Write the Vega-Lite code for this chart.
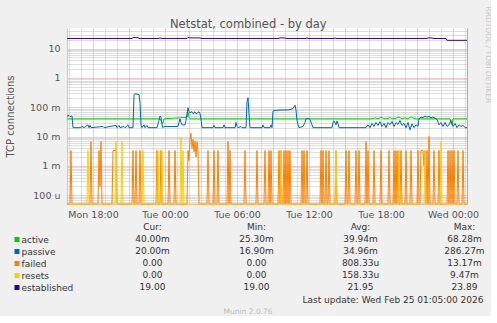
{
"$schema": "https://vega.github.io/schema/vega-lite/v6.json",
"background": "#f0f0f0",
"padding": {"left": 5, "top": 5, "right": 0, "bottom": 0},
"title": {"text": "Netstat, combined - by day", "anchor": "middle", "frame": "bounds", "fontSize": 11.5, "fontWeight": "normal", "color": "#555555", "offset": -24},
"spacing": 2,
"datasets": {
"active": [{"t":"2026-02-23T15:50","v":0.04},{"t":"2026-02-23T23:35","v":0.04},{"t":"2026-02-23T23:45","v":0.03},{"t":"2026-02-23T23:50","v":0.028},{"t":"2026-02-23T23:55","v":0.04},{"t":"2026-02-24T01:50","v":0.045},{"t":"2026-02-24T01:55","v":0.06828},{"t":"2026-02-24T02:00","v":0.045},{"t":"2026-02-24T02:05","v":0.04},{"t":"2026-02-24T17:15","v":0.04},{"t":"2026-02-24T17:30","v":0.043},{"t":"2026-02-24T17:45","v":0.04},{"t":"2026-02-24T18:00","v":0.045},{"t":"2026-02-24T18:15","v":0.041},{"t":"2026-02-24T18:30","v":0.04},{"t":"2026-02-24T18:45","v":0.044},{"t":"2026-02-24T19:00","v":0.04},{"t":"2026-02-24T19:15","v":0.042},{"t":"2026-02-24T19:30","v":0.046},{"t":"2026-02-24T19:45","v":0.04},{"t":"2026-02-24T20:00","v":0.043},{"t":"2026-02-24T20:15","v":0.04},{"t":"2026-02-24T20:30","v":0.047},{"t":"2026-02-24T20:45","v":0.041},{"t":"2026-02-24T20:55","v":0.04},{"t":"2026-02-24T23:45","v":0.04},{"t":"2026-02-24T23:50","v":0.03},{"t":"2026-02-24T23:55","v":0.0253},{"t":"2026-02-25T00:00","v":0.04},{"t":"2026-02-25T01:10","v":0.04}],
"passive": [{"t":"2026-02-23T15:50","v":0.05},{"t":"2026-02-23T16:00","v":0.052},{"t":"2026-02-23T16:05","v":0.048},{"t":"2026-02-23T16:15","v":0.05},{"t":"2026-02-23T16:20","v":0.02},{"t":"2026-02-23T16:55","v":0.02},{"t":"2026-02-23T17:05","v":0.022},{"t":"2026-02-23T17:15","v":0.02},{"t":"2026-02-23T17:35","v":0.025},{"t":"2026-02-23T17:40","v":0.02},{"t":"2026-02-23T17:45","v":0.024},{"t":"2026-02-23T17:50","v":0.02},{"t":"2026-02-23T18:50","v":0.022},{"t":"2026-02-23T18:55","v":0.02},{"t":"2026-02-23T19:55","v":0.024},{"t":"2026-02-23T20:00","v":0.02},{"t":"2026-02-23T20:10","v":0.024},{"t":"2026-02-23T20:15","v":0.02},{"t":"2026-02-23T20:35","v":0.022},{"t":"2026-02-23T20:40","v":0.02},{"t":"2026-02-23T20:55","v":0.025},{"t":"2026-02-23T21:00","v":0.02},{"t":"2026-02-23T21:20","v":0.02},{"t":"2026-02-23T21:25","v":0.27},{"t":"2026-02-23T21:30","v":0.28627},{"t":"2026-02-23T21:50","v":0.27},{"t":"2026-02-23T21:55","v":0.14},{"t":"2026-02-23T22:00","v":0.025},{"t":"2026-02-23T22:05","v":0.02},{"t":"2026-02-23T22:15","v":0.025},{"t":"2026-02-23T22:20","v":0.02},{"t":"2026-02-23T22:30","v":0.024},{"t":"2026-02-23T22:35","v":0.02},{"t":"2026-02-23T23:20","v":0.02},{"t":"2026-02-23T23:30","v":0.035},{"t":"2026-02-23T23:35","v":0.05},{"t":"2026-02-23T23:40","v":0.045},{"t":"2026-02-23T23:45","v":0.025},{"t":"2026-02-23T23:50","v":0.02},{"t":"2026-02-23T23:55","v":0.022},{"t":"2026-02-24T01:05","v":0.022},{"t":"2026-02-24T01:10","v":0.03},{"t":"2026-02-24T01:15","v":0.04},{"t":"2026-02-24T01:20","v":0.03},{"t":"2026-02-24T01:25","v":0.025},{"t":"2026-02-24T01:40","v":0.025},{"t":"2026-02-24T01:45","v":0.035},{"t":"2026-02-24T01:50","v":0.06},{"t":"2026-02-24T01:55","v":0.095},{"t":"2026-02-24T02:00","v":0.07},{"t":"2026-02-24T02:05","v":0.065},{"t":"2026-02-24T02:15","v":0.07},{"t":"2026-02-24T02:20","v":0.06},{"t":"2026-02-24T02:30","v":0.07},{"t":"2026-02-24T02:35","v":0.06},{"t":"2026-02-24T02:45","v":0.065},{"t":"2026-02-24T02:50","v":0.07},{"t":"2026-02-24T02:55","v":0.06},{"t":"2026-02-24T03:00","v":0.04},{"t":"2026-02-24T03:05","v":0.02},{"t":"2026-02-24T04:00","v":0.02},{"t":"2026-02-24T04:05","v":0.024},{"t":"2026-02-24T04:10","v":0.02},{"t":"2026-02-24T04:50","v":0.02},{"t":"2026-02-24T04:55","v":0.025},{"t":"2026-02-24T05:00","v":0.02},{"t":"2026-02-24T05:50","v":0.02},{"t":"2026-02-24T05:55","v":0.03},{"t":"2026-02-24T06:00","v":0.022},{"t":"2026-02-24T06:05","v":0.02},{"t":"2026-02-24T06:20","v":0.022},{"t":"2026-02-24T06:25","v":0.02},{"t":"2026-02-24T06:45","v":0.02},{"t":"2026-02-24T06:50","v":0.15},{"t":"2026-02-24T06:55","v":0.21},{"t":"2026-02-24T07:00","v":0.06},{"t":"2026-02-24T07:05","v":0.02},{"t":"2026-02-24T08:05","v":0.02},{"t":"2026-02-24T08:10","v":0.025},{"t":"2026-02-24T08:15","v":0.02},{"t":"2026-02-24T08:45","v":0.02},{"t":"2026-02-24T08:50","v":0.025},{"t":"2026-02-24T08:55","v":0.02},{"t":"2026-02-24T09:00","v":0.074},{"t":"2026-02-24T09:15","v":0.078},{"t":"2026-02-24T09:35","v":0.08},{"t":"2026-02-24T10:00","v":0.08},{"t":"2026-02-24T10:25","v":0.082},{"t":"2026-02-24T10:40","v":0.09},{"t":"2026-02-24T10:50","v":0.117},{"t":"2026-02-24T10:55","v":0.08},{"t":"2026-02-24T11:00","v":0.035},{"t":"2026-02-24T11:05","v":0.025},{"t":"2026-02-24T11:10","v":0.02},{"t":"2026-02-24T11:30","v":0.022},{"t":"2026-02-24T11:40","v":0.03},{"t":"2026-02-24T11:45","v":0.04},{"t":"2026-02-24T11:55","v":0.042},{"t":"2026-02-24T12:05","v":0.038},{"t":"2026-02-24T12:15","v":0.025},{"t":"2026-02-24T12:20","v":0.02},{"t":"2026-02-24T13:55","v":0.02},{"t":"2026-02-24T14:00","v":0.03},{"t":"2026-02-24T14:05","v":0.034},{"t":"2026-02-24T14:15","v":0.025},{"t":"2026-02-24T14:20","v":0.034},{"t":"2026-02-24T14:25","v":0.028},{"t":"2026-02-24T14:30","v":0.02},{"t":"2026-02-24T16:45","v":0.02},{"t":"2026-02-24T16:55","v":0.025},{"t":"2026-02-24T17:05","v":0.02},{"t":"2026-02-24T17:15","v":0.028},{"t":"2026-02-24T17:25","v":0.022},{"t":"2026-02-24T17:35","v":0.03},{"t":"2026-02-24T17:45","v":0.024},{"t":"2026-02-24T17:55","v":0.032},{"t":"2026-02-24T18:05","v":0.022},{"t":"2026-02-24T18:15","v":0.028},{"t":"2026-02-24T18:25","v":0.02},{"t":"2026-02-24T18:35","v":0.03},{"t":"2026-02-24T18:45","v":0.025},{"t":"2026-02-24T18:55","v":0.033},{"t":"2026-02-24T19:05","v":0.022},{"t":"2026-02-24T19:15","v":0.03},{"t":"2026-02-24T19:25","v":0.026},{"t":"2026-02-24T19:35","v":0.035},{"t":"2026-02-24T19:45","v":0.024},{"t":"2026-02-24T19:55","v":0.028},{"t":"2026-02-24T20:05","v":0.02},{"t":"2026-02-24T20:15","v":0.03},{"t":"2026-02-24T20:25","v":0.0169},{"t":"2026-02-24T20:35","v":0.027},{"t":"2026-02-24T20:45","v":0.02},{"t":"2026-02-24T20:55","v":0.025},{"t":"2026-02-24T21:05","v":0.022},{"t":"2026-02-24T21:10","v":0.04},{"t":"2026-02-24T21:20","v":0.046},{"t":"2026-02-24T21:30","v":0.044},{"t":"2026-02-24T21:40","v":0.05},{"t":"2026-02-24T21:50","v":0.046},{"t":"2026-02-24T22:00","v":0.048},{"t":"2026-02-24T22:10","v":0.044},{"t":"2026-02-24T22:20","v":0.046},{"t":"2026-02-24T22:30","v":0.042},{"t":"2026-02-24T22:40","v":0.038},{"t":"2026-02-24T22:50","v":0.025},{"t":"2026-02-24T23:00","v":0.03},{"t":"2026-02-24T23:10","v":0.022},{"t":"2026-02-24T23:20","v":0.03},{"t":"2026-02-24T23:30","v":0.022},{"t":"2026-02-24T23:40","v":0.025},{"t":"2026-02-24T23:50","v":0.035},{"t":"2026-02-25T00:00","v":0.022},{"t":"2026-02-25T00:10","v":0.028},{"t":"2026-02-25T00:20","v":0.02},{"t":"2026-02-25T00:30","v":0.025},{"t":"2026-02-25T00:40","v":0.022},{"t":"2026-02-25T00:50","v":0.024},{"t":"2026-02-25T01:00","v":0.02},{"t":"2026-02-25T01:10","v":0.02}],
"failed": [{"t":"2026-02-23T15:50","v":0},{"t":"2026-02-23T16:05","v":0},{"t":"2026-02-23T16:10","v":0.00333},{"t":"2026-02-23T16:15","v":0},{"t":"2026-02-23T17:45","v":0},{"t":"2026-02-23T17:50","v":0.00667},{"t":"2026-02-23T17:55","v":0},{"t":"2026-02-23T18:25","v":0},{"t":"2026-02-23T18:30","v":0.00333},{"t":"2026-02-23T18:35","v":0.0002},{"t":"2026-02-23T18:40","v":0.00667},{"t":"2026-02-23T18:45","v":0},{"t":"2026-02-23T19:35","v":0},{"t":"2026-02-23T19:40","v":0.00333},{"t":"2026-02-23T19:55","v":0.00333},{"t":"2026-02-23T20:00","v":0},{"t":"2026-02-23T21:15","v":0},{"t":"2026-02-23T21:20","v":0.00333},{"t":"2026-02-23T21:25","v":0},{"t":"2026-02-23T21:30","v":0},{"t":"2026-02-23T21:35","v":0.00333},{"t":"2026-02-23T21:40","v":0},{"t":"2026-02-23T21:50","v":0},{"t":"2026-02-23T21:55","v":0.00333},{"t":"2026-02-23T22:00","v":0},{"t":"2026-02-23T23:15","v":0},{"t":"2026-02-23T23:20","v":0.00333},{"t":"2026-02-23T23:25","v":0},{"t":"2026-02-23T23:35","v":0},{"t":"2026-02-23T23:40","v":0.00333},{"t":"2026-02-23T23:45","v":0},{"t":"2026-02-24T00:15","v":0},{"t":"2026-02-24T00:20","v":0.00333},{"t":"2026-02-24T00:25","v":0},{"t":"2026-02-24T00:45","v":0},{"t":"2026-02-24T00:50","v":0.00333},{"t":"2026-02-24T00:55","v":0},{"t":"2026-02-24T01:50","v":0},{"t":"2026-02-24T01:55","v":0.00333},{"t":"2026-02-24T02:00","v":0.0015},{"t":"2026-02-24T02:05","v":0.008},{"t":"2026-02-24T02:10","v":0.01317},{"t":"2026-02-24T02:15","v":0.004},{"t":"2026-02-24T02:20","v":0.008},{"t":"2026-02-24T02:25","v":0.003},{"t":"2026-02-24T02:30","v":0.007},{"t":"2026-02-24T02:35","v":0.002},{"t":"2026-02-24T02:40","v":0.00667},{"t":"2026-02-24T02:45","v":0.00333},{"t":"2026-02-24T02:50","v":0},{"t":"2026-02-24T03:30","v":0},{"t":"2026-02-24T03:35","v":0.00333},{"t":"2026-02-24T03:40","v":0},{"t":"2026-02-24T04:00","v":0},{"t":"2026-02-24T04:05","v":0.00333},{"t":"2026-02-24T04:10","v":0},{"t":"2026-02-24T04:20","v":0},{"t":"2026-02-24T04:25","v":0.00333},{"t":"2026-02-24T04:30","v":0},{"t":"2026-02-24T05:10","v":0},{"t":"2026-02-24T05:15","v":0.00667},{"t":"2026-02-24T05:20","v":0},{"t":"2026-02-24T05:25","v":0.00333},{"t":"2026-02-24T05:30","v":0},{"t":"2026-02-24T06:35","v":0},{"t":"2026-02-24T06:40","v":0.00333},{"t":"2026-02-24T06:45","v":0},{"t":"2026-02-24T07:35","v":0},{"t":"2026-02-24T07:40","v":0.00333},{"t":"2026-02-24T07:45","v":0},{"t":"2026-02-24T08:15","v":0},{"t":"2026-02-24T08:20","v":0.00333},{"t":"2026-02-24T08:25","v":0},{"t":"2026-02-24T08:35","v":0},{"t":"2026-02-24T08:40","v":0.00333},{"t":"2026-02-24T08:45","v":0},{"t":"2026-02-24T08:50","v":0.00333},{"t":"2026-02-24T08:55","v":0},{"t":"2026-02-24T09:25","v":0},{"t":"2026-02-24T09:30","v":0.00333},{"t":"2026-02-24T09:35","v":0},{"t":"2026-02-24T09:40","v":0.00333},{"t":"2026-02-24T09:45","v":0},{"t":"2026-02-24T09:50","v":0},{"t":"2026-02-24T09:55","v":0.00333},{"t":"2026-02-24T10:00","v":0},{"t":"2026-02-24T10:05","v":0.00333},{"t":"2026-02-24T10:10","v":0},{"t":"2026-02-24T10:15","v":0.00333},{"t":"2026-02-24T10:20","v":0},{"t":"2026-02-24T10:25","v":0.00333},{"t":"2026-02-24T10:30","v":0},{"t":"2026-02-24T11:20","v":0},{"t":"2026-02-24T11:25","v":0.00333},{"t":"2026-02-24T11:30","v":0},{"t":"2026-02-24T11:35","v":0.00333},{"t":"2026-02-24T11:40","v":0},{"t":"2026-02-24T11:45","v":0},{"t":"2026-02-24T11:50","v":0.00333},{"t":"2026-02-24T11:55","v":0},{"t":"2026-02-24T12:55","v":0},{"t":"2026-02-24T13:00","v":0.00333},{"t":"2026-02-24T13:05","v":0},{"t":"2026-02-24T13:10","v":0.00333},{"t":"2026-02-24T13:15","v":0},{"t":"2026-02-24T13:20","v":0},{"t":"2026-02-24T13:25","v":0.00333},{"t":"2026-02-24T13:30","v":0},{"t":"2026-02-24T13:35","v":0},{"t":"2026-02-24T13:40","v":0.00333},{"t":"2026-02-24T13:45","v":0},{"t":"2026-02-24T14:10","v":0},{"t":"2026-02-24T14:15","v":0.00333},{"t":"2026-02-24T14:20","v":0},{"t":"2026-02-24T15:00","v":0},{"t":"2026-02-24T15:05","v":0.00333},{"t":"2026-02-24T15:10","v":0},{"t":"2026-02-24T15:15","v":0},{"t":"2026-02-24T15:20","v":0.00333},{"t":"2026-02-24T15:25","v":0},{"t":"2026-02-24T15:50","v":0},{"t":"2026-02-24T15:55","v":0.00333},{"t":"2026-02-24T16:00","v":0},{"t":"2026-02-24T16:05","v":0},{"t":"2026-02-24T16:10","v":0.00333},{"t":"2026-02-24T16:15","v":0},{"t":"2026-02-24T16:40","v":0},{"t":"2026-02-24T16:45","v":0.00667},{"t":"2026-02-24T16:50","v":0},{"t":"2026-02-24T16:55","v":0.00333},{"t":"2026-02-24T17:00","v":0},{"t":"2026-02-24T17:20","v":0},{"t":"2026-02-24T17:25","v":0.00333},{"t":"2026-02-24T17:30","v":0},{"t":"2026-02-24T17:55","v":0},{"t":"2026-02-24T18:00","v":0.00333},{"t":"2026-02-24T18:05","v":0},{"t":"2026-02-24T18:35","v":0},{"t":"2026-02-24T18:40","v":0.00333},{"t":"2026-02-24T18:45","v":0},{"t":"2026-02-24T19:00","v":0},{"t":"2026-02-24T19:05","v":0.00333},{"t":"2026-02-24T19:10","v":0},{"t":"2026-02-24T19:15","v":0.00333},{"t":"2026-02-24T19:20","v":0},{"t":"2026-02-24T19:25","v":0.00333},{"t":"2026-02-24T19:30","v":0},{"t":"2026-02-24T19:35","v":0},{"t":"2026-02-24T19:40","v":0.00333},{"t":"2026-02-24T19:45","v":0},{"t":"2026-02-24T20:00","v":0},{"t":"2026-02-24T20:05","v":0.00333},{"t":"2026-02-24T20:10","v":0},{"t":"2026-02-24T20:25","v":0},{"t":"2026-02-24T20:30","v":0.00333},{"t":"2026-02-24T20:35","v":0},{"t":"2026-02-24T21:00","v":0},{"t":"2026-02-24T21:05","v":0.00333},{"t":"2026-02-24T21:10","v":0},{"t":"2026-02-24T21:15","v":0},{"t":"2026-02-24T21:20","v":0.00333},{"t":"2026-02-24T21:30","v":0.00333},{"t":"2026-02-24T21:35","v":0.001},{"t":"2026-02-24T21:40","v":0.00333},{"t":"2026-02-24T21:45","v":0},{"t":"2026-02-24T21:50","v":0.00333},{"t":"2026-02-24T21:55","v":0},{"t":"2026-02-24T22:00","v":0.01},{"t":"2026-02-24T22:05","v":0},{"t":"2026-02-24T22:20","v":0},{"t":"2026-02-24T22:25","v":0.00333},{"t":"2026-02-24T22:30","v":0},{"t":"2026-02-24T22:45","v":0},{"t":"2026-02-24T22:50","v":0.00333},{"t":"2026-02-24T22:55","v":0},{"t":"2026-02-24T23:30","v":0},{"t":"2026-02-24T23:35","v":0.00333},{"t":"2026-02-24T23:40","v":0},{"t":"2026-02-24T23:45","v":0.00333},{"t":"2026-02-24T23:50","v":0},{"t":"2026-02-24T23:55","v":0.00333},{"t":"2026-02-25T00:00","v":0},{"t":"2026-02-25T00:05","v":0.00333},{"t":"2026-02-25T00:10","v":0},{"t":"2026-02-25T00:20","v":0},{"t":"2026-02-25T00:25","v":0.00333},{"t":"2026-02-25T00:30","v":0},{"t":"2026-02-25T00:45","v":0},{"t":"2026-02-25T00:50","v":0.00333},{"t":"2026-02-25T00:55","v":0},{"t":"2026-02-25T01:10","v":0}],
"resets": [{"t":"2026-02-23T15:50","v":0},{"t":"2026-02-23T17:30","v":0},{"t":"2026-02-23T17:35","v":0.00333},{"t":"2026-02-23T17:40","v":0},{"t":"2026-02-23T19:50","v":0},{"t":"2026-02-23T19:55","v":0.00667},{"t":"2026-02-23T20:00","v":0},{"t":"2026-02-23T20:20","v":0},{"t":"2026-02-23T20:25","v":0.00667},{"t":"2026-02-23T20:30","v":0},{"t":"2026-02-23T22:05","v":0},{"t":"2026-02-23T22:10","v":0.00333},{"t":"2026-02-23T22:15","v":0},{"t":"2026-02-23T23:20","v":0},{"t":"2026-02-23T23:25","v":0.00333},{"t":"2026-02-23T23:30","v":0},{"t":"2026-02-23T23:40","v":0},{"t":"2026-02-23T23:45","v":0.00333},{"t":"2026-02-23T23:50","v":0},{"t":"2026-02-24T01:15","v":0},{"t":"2026-02-24T01:20","v":0.00947},{"t":"2026-02-24T01:25","v":0},{"t":"2026-02-24T01:30","v":0.00333},{"t":"2026-02-24T01:35","v":0},{"t":"2026-02-24T09:35","v":0},{"t":"2026-02-24T09:40","v":0.00333},{"t":"2026-02-24T09:45","v":0},{"t":"2026-02-24T14:10","v":0},{"t":"2026-02-24T14:15","v":0.00333},{"t":"2026-02-24T14:20","v":0},{"t":"2026-02-24T19:25","v":0},{"t":"2026-02-24T19:30","v":0.00333},{"t":"2026-02-24T19:35","v":0},{"t":"2026-02-24T21:35","v":0},{"t":"2026-02-24T21:40","v":0.00333},{"t":"2026-02-24T21:45","v":0},{"t":"2026-02-24T22:55","v":0},{"t":"2026-02-24T23:00","v":0.00667},{"t":"2026-02-24T23:05","v":0},{"t":"2026-02-25T01:10","v":0}],
"established": [{"t":"2026-02-23T15:50","v":22},{"t":"2026-02-23T21:15","v":22},{"t":"2026-02-23T21:20","v":23.5},{"t":"2026-02-23T21:45","v":23.5},{"t":"2026-02-23T21:50","v":22},{"t":"2026-02-23T23:30","v":22},{"t":"2026-02-23T23:35","v":23},{"t":"2026-02-23T23:40","v":22},{"t":"2026-02-24T01:50","v":22},{"t":"2026-02-24T01:55","v":23.89},{"t":"2026-02-24T02:05","v":23},{"t":"2026-02-24T02:55","v":23},{"t":"2026-02-24T03:00","v":22},{"t":"2026-02-24T09:30","v":22},{"t":"2026-02-24T09:35","v":23},{"t":"2026-02-24T10:00","v":23},{"t":"2026-02-24T10:05","v":22},{"t":"2026-02-24T11:45","v":22},{"t":"2026-02-24T11:50","v":23},{"t":"2026-02-24T11:55","v":22},{"t":"2026-02-24T14:05","v":22},{"t":"2026-02-24T14:10","v":23},{"t":"2026-02-24T14:15","v":22},{"t":"2026-02-24T21:50","v":22},{"t":"2026-02-24T21:55","v":23},{"t":"2026-02-24T22:15","v":23},{"t":"2026-02-24T22:20","v":22},{"t":"2026-02-24T23:25","v":22},{"t":"2026-02-24T23:30","v":19},{"t":"2026-02-25T01:10","v":19}],
"legend": [
{"series":"header","stat":"Cur","text":"Cur:"},{"series":"header","stat":"Min","text":"Min:"},{"series":"header","stat":"Avg","text":"Avg:"},{"series":"header","stat":"Max","text":"Max:"},
{"series":"active","stat":"Cur","text":"40.00m"},{"series":"active","stat":"Min","text":"25.30m"},{"series":"active","stat":"Avg","text":"39.94m"},{"series":"active","stat":"Max","text":"68.28m"},
{"series":"passive","stat":"Cur","text":"20.00m"},{"series":"passive","stat":"Min","text":"16.90m"},{"series":"passive","stat":"Avg","text":"34.96m"},{"series":"passive","stat":"Max","text":"286.27m"},
{"series":"failed","stat":"Cur","text":"0.00"},{"series":"failed","stat":"Min","text":"0.00"},{"series":"failed","stat":"Avg","text":"808.33u"},{"series":"failed","stat":"Max","text":"13.17m"},
{"series":"resets","stat":"Cur","text":"0.00"},{"series":"resets","stat":"Min","text":"0.00"},{"series":"resets","stat":"Avg","text":"158.33u"},{"series":"resets","stat":"Max","text":"9.47m"},
{"series":"established","stat":"Cur","text":"19.00"},{"series":"established","stat":"Min","text":"19.00"},{"series":"established","stat":"Avg","text":"21.95"},{"series":"established","stat":"Max","text":"23.89"}
]
},
"vconcat": [
{
"width": 400, "height": 176,
"view": {"fill": "#ffffff", "stroke": null},
"layer": [
{"data": {"name": "active"}, "mark": {"type": "line", "color": "#00cc00", "strokeWidth": 1},
 "encoding": {
  "x": {"field": "t", "type": "temporal", "scale": {"domain": [{"year":2026,"month":2,"date":23,"hours":15,"minutes":50},{"year":2026,"month":2,"date":25,"hours":1,"minutes":10}]},
        "axis": {"orient": "bottom", "grid": true, "gridColor": "#bcbcbc", "gridDash": [1,1], "labels": false, "ticks": false, "domain": false, "title": null,
                 "values": [{"year":2026,"month":2,"date":23,"hours":16},{"year":2026,"month":2,"date":23,"hours":17},{"year":2026,"month":2,"date":23,"hours":19},{"year":2026,"month":2,"date":23,"hours":20},{"year":2026,"month":2,"date":23,"hours":22},{"year":2026,"month":2,"date":23,"hours":23},{"year":2026,"month":2,"date":24,"hours":1},{"year":2026,"month":2,"date":24,"hours":2},{"year":2026,"month":2,"date":24,"hours":4},{"year":2026,"month":2,"date":24,"hours":5},{"year":2026,"month":2,"date":24,"hours":7},{"year":2026,"month":2,"date":24,"hours":8},{"year":2026,"month":2,"date":24,"hours":10},{"year":2026,"month":2,"date":24,"hours":11},{"year":2026,"month":2,"date":24,"hours":13},{"year":2026,"month":2,"date":24,"hours":14},{"year":2026,"month":2,"date":24,"hours":16},{"year":2026,"month":2,"date":24,"hours":17},{"year":2026,"month":2,"date":24,"hours":19},{"year":2026,"month":2,"date":24,"hours":20},{"year":2026,"month":2,"date":24,"hours":22},{"year":2026,"month":2,"date":24,"hours":23},{"year":2026,"month":2,"date":25,"hours":1}]}},
  "y": {"field": "v", "type": "quantitative", "scale": {"type": "log", "domain": [0.00005, 50], "clamp": true},
        "axis": {"grid": true, "gridColor": "#bcbcbc", "gridDash": [1,1], "labels": false, "ticks": false, "domain": false, "title": null, "values": [0.00005,0.00006,0.00007,0.00008,0.00009,0.0002,0.0003,0.0004,0.0005,0.0006,0.0007,0.0008,0.0009,0.002,0.003,0.004,0.005,0.006,0.007,0.008,0.009,0.02,0.03,0.04,0.05,0.06,0.07,0.08,0.09,0.2,0.3,0.4,0.5,0.6,0.7,0.8,0.9,2,3,4,5,6,7,8,9,20,30,40]}}
 }},
{"data": {"name": "passive"}, "mark": {"type": "line", "color": "#0066b3", "strokeWidth": 1},
 "encoding": {
  "x": {"field": "t", "type": "temporal", "scale": {"domain": [{"year":2026,"month":2,"date":23,"hours":15,"minutes":50},{"year":2026,"month":2,"date":25,"hours":1,"minutes":10}]},
        "axis": {"orient": "bottom", "grid": true, "gridColor": "#e39494", "gridDash": [1,1], "labels": false, "ticks": false, "domain": false, "title": null,
                 "values": [{"year":2026,"month":2,"date":23,"hours":18},{"year":2026,"month":2,"date":23,"hours":21},{"year":2026,"month":2,"date":24,"hours":0},{"year":2026,"month":2,"date":24,"hours":3},{"year":2026,"month":2,"date":24,"hours":6},{"year":2026,"month":2,"date":24,"hours":9},{"year":2026,"month":2,"date":24,"hours":12},{"year":2026,"month":2,"date":24,"hours":15},{"year":2026,"month":2,"date":24,"hours":18},{"year":2026,"month":2,"date":24,"hours":21},{"year":2026,"month":2,"date":25,"hours":0}]}},
  "y": {"field": "v", "type": "quantitative", "scale": {"type": "log", "domain": [0.00005, 50], "clamp": true},
        "axis": {"grid": true, "gridColor": "#e39494", "gridDash": [1,1], "labels": false, "ticks": false, "domain": false, "title": null, "values": [0.0001,0.001,0.01,0.1,1,10]}}
 }},
{"data": {"name": "failed"}, "mark": {"type": "line", "color": "#ff8000", "strokeWidth": 1},
 "encoding": {
  "x": {"field": "t", "type": "temporal", "scale": {"domain": [{"year":2026,"month":2,"date":23,"hours":15,"minutes":50},{"year":2026,"month":2,"date":25,"hours":1,"minutes":10}]},
        "axis": {"orient": "bottom", "grid": false, "ticks": false, "domain": true, "domainColor": "#c4c4dc", "format": "%a %H:%M", "labelFontSize": 9.5, "labelColor": "#555555", "labelPadding": 5, "labelFlush": false, "labelOverlap": false, "title": null,
                 "values": [{"year":2026,"month":2,"date":23,"hours":18},{"year":2026,"month":2,"date":24,"hours":0},{"year":2026,"month":2,"date":24,"hours":6},{"year":2026,"month":2,"date":24,"hours":12},{"year":2026,"month":2,"date":24,"hours":18},{"year":2026,"month":2,"date":25,"hours":0}]}},
  "y": {"field": "v", "type": "quantitative", "scale": {"type": "log", "domain": [0.00005, 50], "clamp": true},
        "axis": {"orient": "left", "grid": false, "ticks": false, "domain": true, "domainColor": "#c4c4dc", "values": [0.0001,0.001,0.01,0.1,1,10], "labelExpr": "datum.value >= 1 ? format(datum.value, '.0f') + '\u00a0\u00a0' : datum.value >= 0.001 ? format(datum.value * 1000, '.0f') + ' m' : format(datum.value * 1000000, '.0f') + ' u'", "labelFontSize": 9.5, "labelColor": "#555555", "labelPadding": 7, "labelFlush": false, "labelOverlap": false, "title": "TCP connections", "titleFontSize": 10, "titleFontWeight": "normal", "titleColor": "#555555", "titlePadding": 14}}
 }},
{"data": {"name": "resets"}, "mark": {"type": "line", "color": "#ffcc00", "strokeWidth": 1},
 "encoding": {
  "x": {"field": "t", "type": "temporal", "scale": {"domain": [{"year":2026,"month":2,"date":23,"hours":15,"minutes":50},{"year":2026,"month":2,"date":25,"hours":1,"minutes":10}]}, "axis": null},
  "y": {"field": "v", "type": "quantitative", "scale": {"type": "log", "domain": [0.00005, 50], "clamp": true},
        "axis": {"orient": "right", "grid": false, "ticks": false, "labels": false, "domain": true, "domainColor": "#aaaaaa", "title": "RRDTOOL / TOBI OETIKER", "titleAngle": 90, "titleAlign": "left", "titleY": -22, "titleFontSize": 7.5, "titleFontWeight": "normal", "titleColor": "#c8c8c8", "titlePadding": 16}}
 }},
{"data": {"name": "established"}, "mark": {"type": "line", "color": "#330099", "strokeWidth": 1},
 "encoding": {
  "x": {"field": "t", "type": "temporal", "scale": {"domain": [{"year":2026,"month":2,"date":23,"hours":15,"minutes":50},{"year":2026,"month":2,"date":25,"hours":1,"minutes":10}]}, "axis": null},
  "y": {"field": "v", "type": "quantitative", "scale": {"type": "log", "domain": [0.00005, 50], "clamp": true}, "axis": null}
 }}
],
"resolve": {"axis": {"x": "independent", "y": "independent"}}
},
{
"width": 416, "height": 72,
"data": {"name": "legend"},
"mark": {"type": "text", "fontSize": 9, "color": "#333333", "baseline": "middle", "align": "center"},
"encoding": {
 "x": {"field": "stat", "type": "nominal", "scale": {"type": "point", "domain": ["Cur","Min","Avg","Max"], "paddingOuter": 0.481, "align": 0.822},
       "axis": {"orient": "bottom", "labels": false, "ticks": false, "domain": false, "grid": false, "title": "Last update: Wed Feb 25 01:05:00 2026", "titleAnchor": "end", "titleFontSize": 9, "titleFontWeight": "normal", "titleColor": "#333333", "titlePadding": 2}},
 "y": {"field": "series", "type": "nominal", "scale": {"type": "point", "domain": ["header","active","passive","failed","resets","established"], "paddingOuter": 0.5},
       "axis": {"orient": "left", "values": ["active","passive","failed","resets","established"], "labelAlign": "left", "labelBaseline": "middle", "labelPadding": -7, "labelFontSize": 9, "labelColor": "#333333", "ticks": true, "tickSize": 5, "tickWidth": 5, "offset": 48, "domain": false, "grid": false, "title": null,
                "tickColor": {"condition": [{"test": "datum.value === 'active'", "value": "#00cc00"}, {"test": "datum.value === 'passive'", "value": "#0066b3"}, {"test": "datum.value === 'failed'", "value": "#ff8000"}, {"test": "datum.value === 'resets'", "value": "#ffcc00"}], "value": "#330099"}}},
 "text": {"field": "text"}
},
"title": {"text": "Munin 2.0.76", "orient": "bottom", "anchor": "middle", "frame": "bounds", "fontSize": 7.5, "fontWeight": "normal", "color": "#bbbbbb", "offset": 4}
}
],
"config": {"font": "DejaVu Sans", "view": {"stroke": null}}
}
